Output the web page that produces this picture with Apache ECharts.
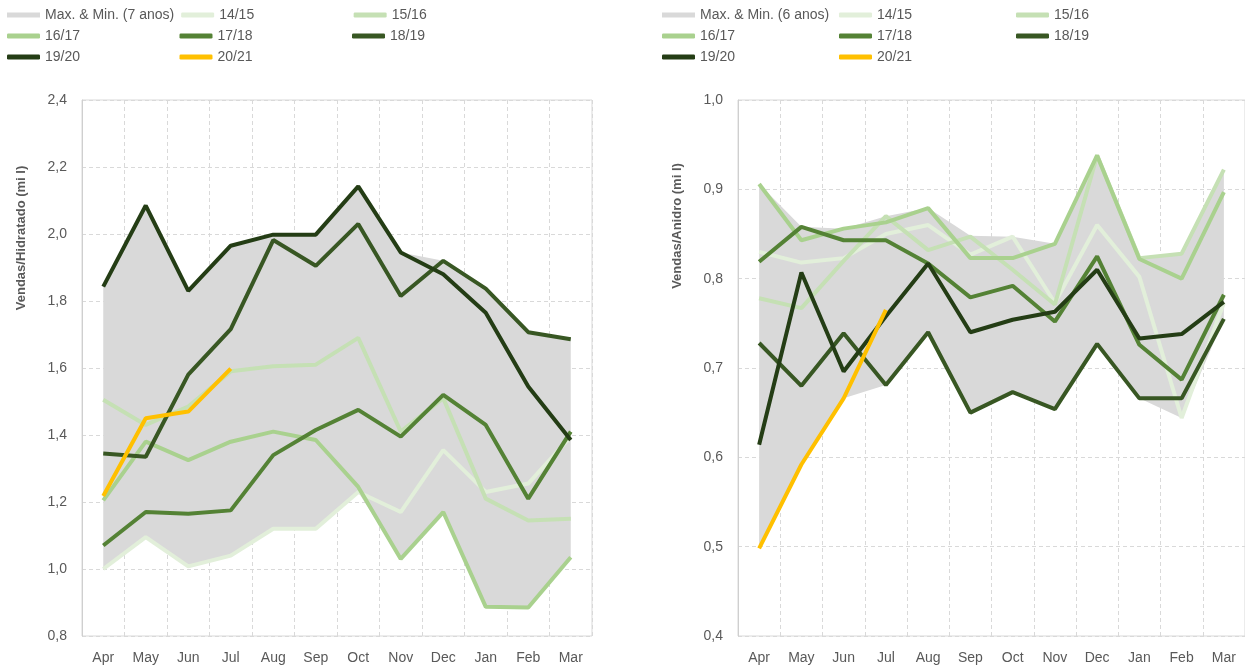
<!DOCTYPE html>
<html>
<head>
<meta charset="utf-8">
<script src="https://cdn.jsdelivr.net/npm/echarts@6/dist/echarts.min.js"></script>
<style>
  html, body { margin: 0; padding: 0; background: #fff; }
  #main { width: 1245px; height: 670px; }
</style>
</head>
<body>
<div id="main"></div>
<script>
// categorias (mês da safra)
var months = ['Apr', 'May', 'Jun', 'Jul', 'Aug', 'Sep', 'Oct', 'Nov', 'Dec', 'Jan', 'Feb', 'Mar'];
var seasons = ['14/15', '15/16', '16/17', '17/18', '18/19', '19/20', '20/21'];
var seasonColors = ['#e2efda', '#c5e0b4', '#a9d18e', '#548235', '#385723', '#243d15', '#ffc000'];

// Hidratado (mi l)
var hid1415 = [1.00, 1.095, 1.008, 1.04, 1.12, 1.12, 1.23, 1.17, 1.355, 1.23, 1.255, 1.395];
var hid1516 = [1.505, 1.43, 1.485, 1.59, 1.605, 1.61, 1.69, 1.41, 1.51, 1.21, 1.145, 1.15];
var hid1617 = [1.205, 1.38, 1.325, 1.38, 1.41, 1.385, 1.245, 1.03, 1.17, 0.887, 0.885, 1.035];
var hid1718 = [1.07, 1.17, 1.165, 1.175, 1.34, 1.415, 1.475, 1.395, 1.52, 1.43, 1.21, 1.41];
var hid1819 = [1.345, 1.335, 1.58, 1.716, 1.982, 1.905, 2.03, 1.815, 1.92, 1.837, 1.707, 1.686];
var hid1920 = [1.843, 2.085, 1.83, 1.965, 1.998, 1.998, 2.142, 1.945, 1.88, 1.765, 1.545, 1.385];
var hid2021 = [1.218, 1.45, 1.47, 1.598];
var hidMax = [1.843, 2.085, 1.83, 1.965, 1.998, 1.998, 2.142, 1.945, 1.92, 1.837, 1.707, 1.686];
var hidMin = [1.00, 1.095, 1.008, 1.04, 1.12, 1.12, 1.23, 1.03, 1.17, 0.887, 0.885, 1.035];

// Anidro (mi l)
var ani1415 = [0.83, 0.818, 0.823, 0.85, 0.86, 0.827, 0.847, 0.773, 0.86, 0.802, 0.644, 0.773];
var ani1516 = [0.778, 0.767, 0.82, 0.87, 0.832, 0.847, 0.81, 0.771, 0.938, 0.823, 0.828, 0.922];
var ani1617 = [0.906, 0.843, 0.856, 0.863, 0.879, 0.823, 0.823, 0.839, 0.938, 0.822, 0.80, 0.897];
var ani1718 = [0.819, 0.858, 0.843, 0.843, 0.817, 0.779, 0.792, 0.752, 0.825, 0.726, 0.687, 0.782];
var ani1819 = [0.728, 0.68, 0.739, 0.681, 0.74, 0.65, 0.673, 0.654, 0.727, 0.666, 0.666, 0.755];
var ani1920 = [0.614, 0.807, 0.696, 0.758, 0.817, 0.74, 0.754, 0.763, 0.81, 0.733, 0.738, 0.774];
var ani2021 = [0.498, 0.592, 0.666, 0.765];
var aniMax = [0.906, 0.858, 0.856, 0.87, 0.879, 0.848, 0.847, 0.839, 0.938, 0.823, 0.828, 0.922];
var aniMin = [0.498, 0.592, 0.666, 0.681, 0.74, 0.65, 0.673, 0.654, 0.726, 0.666, 0.644, 0.755];

var hidSeries = [hid1415, hid1516, hid1617, hid1718, hid1819, hid1920, hid2021];
var aniSeries = [ani1415, ani1516, ani1617, ani1718, ani1819, ani1920, ani2021];

var txtColor = '#595959';
var fontFam = 'Liberation Sans, Arial, sans-serif';

var myChart = echarts.init(document.getElementById('main'));

function fmt(v) {
    return v.toFixed(1).replace('.', ',');
}

function buildSeries(idx, data, maxArr, minArr, bandName) {
    var arr = [];
    // faixa max/min: base transparente + diferença empilhada
    arr.push({
        name: 'base' + idx, type: 'line', stack: 'band' + idx,
        xAxisIndex: idx, yAxisIndex: idx,
        data: minArr, symbol: 'none', silent: true,
        lineStyle: { width: 0, opacity: 0 }
    });
    arr.push({
        name: bandName, type: 'line', stack: 'band' + idx,
        xAxisIndex: idx, yAxisIndex: idx,
        data: maxArr.map(function (v, i) { return +(v - minArr[i]).toFixed(4); }),
        symbol: 'none', silent: true,
        itemStyle: { color: '#d9d9d9' },
        lineStyle: { width: 0, opacity: 0 },
        areaStyle: { color: '#d9d9d9', opacity: 1 }
    });
    seasons.forEach(function (s, i) {
        arr.push({
            name: s, type: 'line',
            xAxisIndex: idx, yAxisIndex: idx,
            data: data[i], symbol: 'none',
            itemStyle: { color: seasonColors[i] },
            lineStyle: { width: 4, color: seasonColors[i] }
        });
    });
    return arr;
}

function legendFor(bandName, left, colW) {
    return {
        left: left, top: 8, width: colW * 3 + 10,
        padding: 0,
        orient: 'horizontal',
        itemWidth: 33, itemHeight: 5, itemGap: 7,
        icon: 'roundRect',
        textStyle: { color: txtColor, fontSize: 14, fontFamily: fontFam, lineHeight: 14, width: colW - 45 },
        data: [{ name: bandName, icon: 'rect' }].concat(seasons)
    };
}

function xAx(idx) {
    return {
        type: 'category', gridIndex: idx, data: months, boundaryGap: true,
        axisLine: { show: false }, axisTick: { show: false },
        axisLabel: { color: txtColor, fontSize: 14, fontFamily: fontFam, margin: 15 },
        splitLine: { show: true, lineStyle: { color: '#d9d9d9', type: [4, 3], width: 1 } }
    };
}

function yAx(idx, min, max, interval) {
    return {
        type: 'value', gridIndex: idx, min: min, max: max, interval: interval,
        axisLine: { show: true, lineStyle: { color: '#cfcfcf' } }, axisTick: { show: false },
        axisLabel: { color: txtColor, fontSize: 14, fontFamily: fontFam, margin: 15, formatter: fmt },
        splitLine: { show: true, lineStyle: { color: '#d9d9d9', type: [4, 3], width: 1 } }
    };
}

var option = {
    animation: false,
    backgroundColor: '#fff',
    legend: [
        legendFor('Max. & Min. (7 anos)', 7, 172.5),
        legendFor('Max. & Min. (6 anos)', 662, 177)
    ],
    grid: [
        { left: 82, top: 100, width: 510, height: 536, show: true, borderColor: '#d9d9d9', borderWidth: 1 },
        { left: 738, top: 100, width: 510, height: 536, show: true, borderColor: '#d9d9d9', borderWidth: 1 }
    ],
    xAxis: [xAx(0), xAx(1)],
    yAxis: [yAx(0, 0.8, 2.4, 0.2), yAx(1, 0.4, 1.0, 0.1)],
    graphic: [
        {
            type: 'text', x: 21, y: 238, rotation: Math.PI / 2,
            style: { text: 'Vendas/Hidratado (mi l)', fill: txtColor, font: 'bold 13px Liberation Sans, Arial, sans-serif', align: 'center', verticalAlign: 'middle' }
        },
        {
            type: 'text', x: 677, y: 226, rotation: Math.PI / 2,
            style: { text: 'Vendas/Anidro (mi l)', fill: txtColor, font: 'bold 13px Liberation Sans, Arial, sans-serif', align: 'center', verticalAlign: 'middle' }
        }
    ],
    series: buildSeries(0, hidSeries, hidMax, hidMin, 'Max. & Min. (7 anos)')
        .concat(buildSeries(1, aniSeries, aniMax, aniMin, 'Max. & Min. (6 anos)'))
};

option && myChart.setOption(option);
</script>
</body>
</html>
